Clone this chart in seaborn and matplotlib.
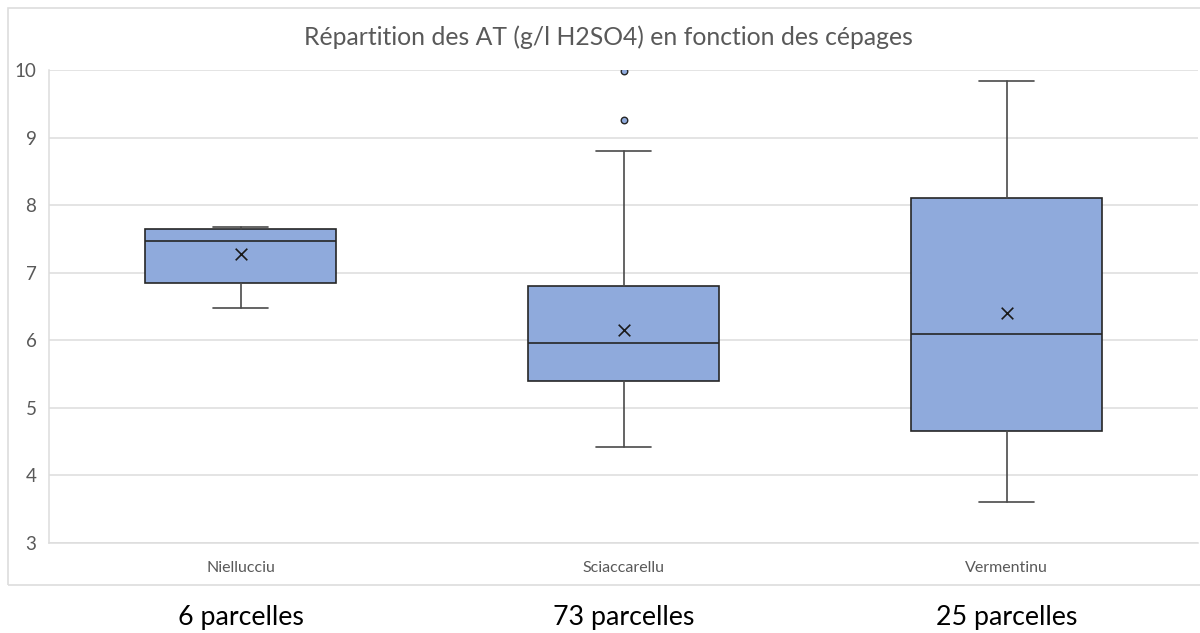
import matplotlib
matplotlib.use("Agg")
import matplotlib.pyplot as plt
import seaborn as sns
from matplotlib.patches import Rectangle

# ---- data ----
cepages = ["Niellucciu", "Sciaccarellu", "Vermentinu"]
n_parcelles = [6, 73, 25]
whisker_low = [6.48, 4.42, 3.61]
q1 = [6.85, 5.40, 4.66]
median = [7.47, 5.96, 6.10]
q3 = [7.64, 6.80, 8.10]
whisker_high = [7.68, 8.80, 9.83]
mean = [7.28, 6.15, 6.40]
outliers = [[], [9.98, 9.26], []]
y_ticks = [3, 4, 5, 6, 7, 8, 9, 10]
title = "Répartition des AT (g/l H2SO4) en fonction des cépages"

sns.set_theme(style="white")
plt.rcParams["font.family"] = ["Lato", "DejaVu Sans"]

BOX = "#8FAADC"
EDGE = "#262626"
WHISK = "#4a4a4a"
GREY = "#595959"
GRID = "#DDDDDD"

fig = plt.figure(figsize=(12, 6.33), dpi=100)
ax = fig.add_axes([49 / 1200, 1 - 543 / 633, 1149 / 1200, 473 / 633])

stats = []
for i, name in enumerate(cepages):
    stats.append(dict(label=name, whislo=whisker_low[i], q1=q1[i], med=median[i],
                      q3=q3[i], whishi=whisker_high[i], mean=mean[i],
                      fliers=outliers[i]))

positions = list(range(len(cepages)))
ax.bxp(stats, positions=positions, widths=0.5, capwidths=0.146,
       patch_artist=True, showmeans=False, showfliers=False,
       boxprops=dict(facecolor=BOX, edgecolor=EDGE, linewidth=1.2),
       medianprops=dict(color=EDGE, linewidth=1.2),
       whiskerprops=dict(color=WHISK, linewidth=1.2),
       capprops=dict(color=WHISK, linewidth=1.2), zorder=3)

# means
sns.scatterplot(x=positions, y=mean, marker="x", s=70, color="#1a1a1a",
                linewidth=1.2, ax=ax, zorder=5, legend=False)
# outliers
ox = [i for i, o in enumerate(outliers) for _ in o]
oy = [v for o in outliers for v in o]
sns.scatterplot(x=ox, y=oy, marker="o", s=22, color=BOX, edgecolor=EDGE,
                linewidth=1.0, ax=ax, zorder=5, legend=False)

ax.set_xlim(-0.5, len(cepages) - 0.5)
ax.set_ylim(3, 10)
ax.set_yticks(y_ticks)
ax.set_xticks(positions)
ax.set_xticklabels(cepages)
ax.yaxis.grid(True, color=GRID, linewidth=1.1, zorder=0)
ax.set_axisbelow(True)
for s in ["top", "right"]:
    ax.spines[s].set_visible(False)
ax.spines["left"].set_color(GRID)
ax.spines["bottom"].set_color(GRID)
ax.spines["left"].set_linewidth(1.1)
ax.spines["bottom"].set_linewidth(1.1)
ax.tick_params(axis="y", length=0, pad=9, labelsize=13.5, labelcolor=GREY)
ax.tick_params(axis="x", length=0, pad=13, labelsize=11.5, labelcolor=GREY)

fig.text(608 / 1200, 1 - 37 / 633, title, ha="center", va="center",
         fontsize=17.8, color=GREY)

for i, n in enumerate(n_parcelles):
    ax.annotate(f"{n} parcelles", xy=(i, 1 - 617 / 633),
                xycoords=("data", "figure fraction"), ha="center",
                va="center", fontsize=19.3, color="black")

fig.add_artist(Rectangle((8 / 1200, 1 - 585 / 633), 1.05, 577 / 633,
                         transform=fig.transFigure, fill=False,
                         edgecolor=GRID, linewidth=1.2))

fig.savefig("out.png", dpi=100)
